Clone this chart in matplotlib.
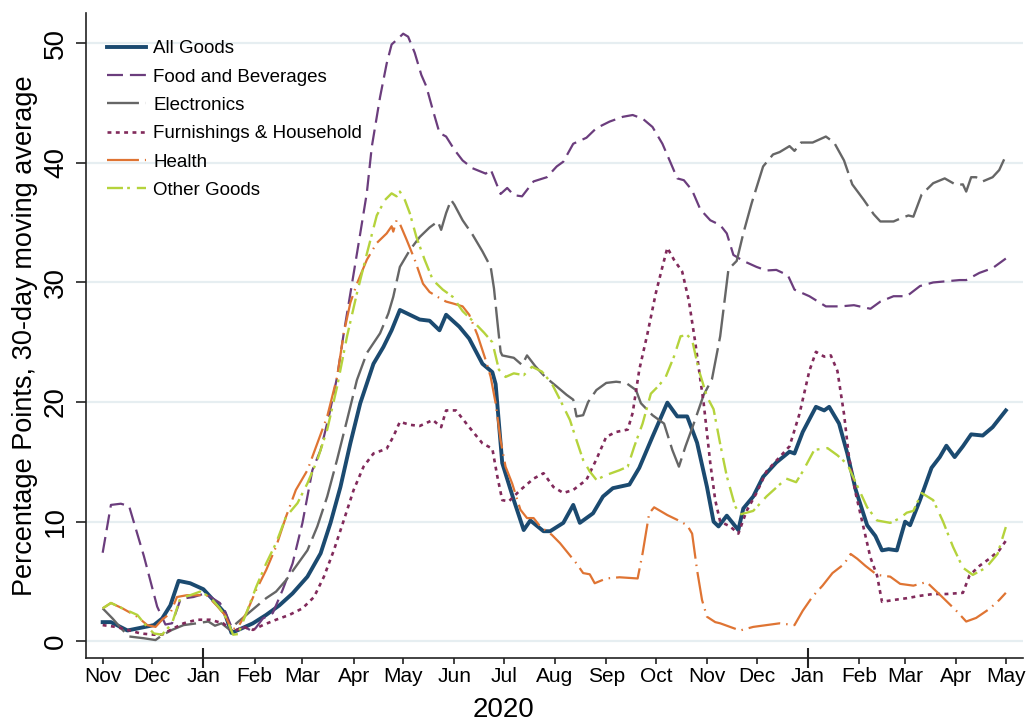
import pandas as pd
import matplotlib
matplotlib.use("Agg")
import matplotlib.pyplot as plt
import matplotlib.dates as mdates

plt.rcParams['font.family'] = ['Liberation Sans', 'DejaVu Sans']
plt.rcParams['lines.scale_dashes'] = False

START = pd.Timestamp("2019-11-01")   # day 0 of the series below

# ---- data: days since 2019-11-01, value in percentage points ----
all_days = [0, 5, 15, 31, 36, 41, 46, 53, 61, 67, 74, 78, 83, 91, 99, 107, 115, 124, 132, 138, 144, 150, 156, 164,
            170, 175, 180, 186, 192, 198, 204, 208, 216, 222, 230, 236, 238, 242, 249, 255, 259, 267, 271, 279, 285,
            289, 297, 303, 309, 319, 325, 333, 342, 348, 354, 360, 366, 370, 373, 378, 385, 388, 394, 400, 408, 416,
            419, 424, 432, 437, 440, 446, 451, 456, 463, 468, 472, 476, 481, 486, 489, 495, 502, 507, 511, 516, 521,
            526, 533, 539, 547]
all_vals = [1.6, 1.6, 0.9, 1.35, 1.9, 3.0, 5.05, 4.85, 4.35, 3.45, 2.35, 0.7, 1.0, 1.5, 2.2, 3.0, 4.0, 5.4, 7.35, 9.9,
            12.9, 16.55, 19.9, 23.2, 24.6, 26.0, 27.7, 27.3, 26.9, 26.8, 26.0, 27.3, 26.3, 25.3, 23.2, 22.5, 21.5,
            14.9, 11.8, 9.3, 10.1, 9.2, 9.2, 9.9, 11.4, 9.9, 10.7, 12.1, 12.8, 13.1, 14.5, 17.1, 19.95, 18.8, 18.8,
            16.6, 12.9, 10.0, 9.6, 10.5, 9.3, 11.1, 12.1, 13.75, 14.95, 15.85, 15.7, 17.5, 19.6, 19.3, 19.6, 18.2,
            15.7, 12.7, 9.7, 8.8, 7.6, 7.7, 7.6, 10.0, 9.7, 11.8, 14.5, 15.4, 16.35, 15.4, 16.3, 17.3, 17.2, 17.9,
            19.3]

food_days = [0, 5, 11, 16, 25, 33, 38, 42, 47, 50, 55, 62, 71, 74, 78, 81, 86, 91, 97, 103, 109, 115, 121, 127, 132,
             137, 142, 146, 151, 156, 160, 163, 168, 172, 175, 179, 182, 185, 189, 193, 196, 200, 204, 208, 213, 218,
             224, 232, 235, 241, 245, 249, 254, 261, 269, 275, 279, 285, 293, 299, 307, 315, 321, 327, 333, 339, 344,
             348, 352, 357, 362, 368, 374, 378, 382, 388, 396, 402, 408, 415, 419, 428, 438, 447, 455, 465, 471, 479,
             487, 495, 503, 511, 519, 523, 531, 539, 547]
food_vals = [7.4, 11.4, 11.5, 11.3, 7.1, 2.9, 1.4, 1.5, 3.45, 3.6, 3.7, 4.0, 3.2, 2.55, 1.2, 0.9, 1.2, 0.8, 1.9, 2.35,
             4.3, 6.5, 9.9, 14.3, 16.0, 18.8, 22.1, 25.75, 29.9, 34.1, 37.5, 41.35, 45.5, 48.3, 49.9, 50.4, 50.8,
             50.55, 49.2, 47.35, 46.4, 44.4, 42.5, 42.2, 41.1, 40.2, 39.55, 39.1, 39.45, 37.4, 37.9, 37.3, 37.2,
             38.45, 38.8, 39.7, 40.1, 41.6, 42.1, 42.9, 43.45, 43.85, 44.0, 43.7, 43.0, 41.6, 40.0, 38.7, 38.55, 37.7,
             36.1, 35.2, 34.8, 34.1, 32.3, 31.8, 31.3, 31.0, 31.05, 30.6, 29.4, 28.85, 28.0, 28.0, 28.1, 27.8, 28.4,
             28.85, 28.85, 29.7, 30.0, 30.1, 30.2, 30.2, 30.8, 31.2, 32.0]

elec_days = [0, 6, 12, 16, 25, 32, 36, 42, 49, 57, 64, 68, 72, 77, 81, 87, 93, 99, 105, 111, 117, 124, 130, 136, 142,
             148, 154, 160, 168, 173, 176, 180, 186, 192, 198, 203, 205, 208, 211, 213, 218, 224, 230, 235, 237, 239,
             241, 242, 249, 254, 257, 262, 268, 275, 281, 285, 287, 291, 294, 299, 305, 311, 317, 323, 326, 333, 340,
             345, 349, 353, 358, 364, 369, 374, 379, 384, 388, 393, 400, 406, 410, 416, 419, 423, 430, 438, 443, 449,
             454, 461, 467, 471, 479, 484, 488, 491, 496, 503, 510, 517, 521, 523, 526, 529, 533, 539, 543, 547]
elec_vals = [2.75, 1.9, 0.95, 0.4, 0.25, 0.1, 0.5, 0.95, 1.35, 1.5, 1.65, 1.3, 1.5, 0.95, 1.5, 2.2, 2.9, 3.6, 4.15,
             5.1, 6.25, 7.6, 9.6, 12.1, 15.2, 18.5, 21.85, 24.1, 25.75, 27.4, 28.8, 31.3, 32.7, 33.8, 34.6, 35.1,
             34.4, 35.8, 36.9, 36.5, 35.2, 34.0, 32.6, 31.3, 29.5, 26.8, 24.2, 23.9, 23.7, 23.1, 23.9, 23.0, 22.1,
             21.3, 20.6, 20.2, 18.8, 18.9, 20.0, 21.0, 21.6, 21.7, 21.6, 21.0, 19.9, 18.9, 18.2, 16.0, 14.6, 16.3,
             18.2, 20.6, 21.9, 25.5, 31.1, 31.8, 34.1, 36.6, 39.7, 40.7, 40.9, 41.4, 41.0, 41.7, 41.7, 42.2, 41.7,
             40.2, 38.2, 36.9, 35.7, 35.1, 35.1, 35.4, 35.6, 35.5, 37.35, 38.3, 38.7, 38.15, 38.2, 37.6, 38.8, 38.8,
             38.45, 38.8, 39.4, 40.6]

furn_days = [0, 8, 15, 23, 31, 36, 41, 49, 57, 65, 73, 79, 85, 91, 97, 105, 113, 121, 128, 134, 140, 146, 152, 158,
             164, 172, 176, 180, 186, 192, 200, 205, 208, 214, 222, 230, 236, 239, 242, 246, 253, 261, 267, 273, 279,
             285, 293, 299, 305, 311, 318, 321, 325, 330, 335, 339, 342, 346, 351, 355, 359, 362, 364, 368, 371, 374,
             380, 385, 390, 396, 402, 410, 416, 422, 428, 432, 437, 441, 445, 449, 452, 456, 461, 465, 469, 472, 479,
             487, 495, 503, 511, 521, 525, 531, 537, 543, 547]
furn_vals = [1.35, 1.2, 0.95, 0.65, 0.55, 0.55, 0.95, 1.5, 1.8, 1.8, 1.5, 0.8, 1.2, 0.95, 1.35, 1.8, 2.2, 2.75, 3.7,
             5.4, 7.6, 10.1, 12.65, 14.6, 15.7, 16.1, 17.1, 18.35, 18.1, 18.0, 18.5, 17.9, 19.3, 19.3, 17.9, 16.55,
             16.1, 13.8, 11.8, 11.7, 12.65, 13.6, 14.05, 12.9, 12.4, 12.65, 13.5, 15.2, 17.1, 17.5, 17.7, 19.1, 22.7,
             25.75, 29.1, 31.3, 32.9, 31.9, 30.9, 28.5, 24.9, 21.85, 19.9, 14.9, 11.8, 10.0, 9.6, 9.0, 10.9, 12.4,
             14.2, 15.4, 16.3, 19.0, 22.6, 24.2, 23.8, 23.9, 22.6, 19.0, 15.4, 12.4, 9.4, 7.0, 5.5, 3.3, 3.45, 3.6,
             3.8, 3.95, 3.95, 4.05, 5.5, 6.3, 6.9, 7.6, 8.4]

health_days = [0, 5, 12, 21, 27, 32, 36, 41, 45, 51, 57, 63, 69, 74, 78, 82, 87, 93, 99, 105, 111, 117, 124, 130,
               136, 142, 146, 150, 154, 160, 166, 172, 175, 176, 178, 180, 184, 189, 194, 198, 204, 208, 212, 218,
               222, 227, 232, 235, 238, 241, 244, 248, 253, 257, 261, 265, 272, 277, 282, 287, 291, 295, 298, 305,
               313, 324, 327, 331, 334, 342, 348, 354, 357, 360, 363, 366, 371, 374, 380, 386, 394, 402, 410, 419,
               424, 430, 436, 442, 449, 453, 457, 462, 469, 477, 483, 491, 499, 507, 517, 523, 529, 537, 543, 547]
health_vals = [2.75, 3.2, 2.75, 2.05, 1.35, 1.2, 1.8, 2.35, 3.7, 3.85, 3.85, 3.85, 3.0, 2.2, 0.95, 1.2, 2.35, 4.3,
               5.95, 7.9, 10.4, 12.65, 14.3, 16.55, 18.8, 22.1, 25.75, 28.3, 29.9, 31.9, 33.3, 34.1, 34.7, 34.25,
               35.2, 34.9, 33.6, 31.9, 29.9, 29.2, 28.7, 28.4, 28.25, 28.0, 27.3, 25.6, 23.5, 22.1, 19.9, 16.8, 14.6,
               13.2, 11.0, 10.3, 10.3, 9.6, 8.9, 8.2, 7.35, 6.5, 5.7, 5.6, 4.85, 5.25, 5.35, 5.25, 7.35, 10.7, 11.2,
               10.55, 10.15, 9.7, 9.0, 5.95, 3.45, 2.05, 1.6, 1.5, 1.2, 0.9, 1.2, 1.35, 1.5, 1.35, 2.55, 3.75, 4.65,
               5.7, 6.45, 7.3, 6.9, 6.3, 5.55, 5.4, 4.8, 4.65, 4.95, 3.9, 2.55, 1.65, 1.95, 2.7, 3.45, 4.05]

other_days = [0, 5, 12, 21, 26, 31, 36, 42, 47, 53, 59, 65, 71, 75, 79, 82, 87, 93, 99, 105, 111, 118, 124, 130, 136,
              142, 148, 154, 160, 166, 171, 175, 178, 180, 183, 186, 190, 195, 200, 206, 210, 212, 218, 224, 231, 236,
              240, 244, 249, 255, 260, 266, 272, 277, 283, 287, 291, 295, 299, 305, 313, 318, 322, 327, 332, 337, 341,
              346, 350, 354, 357, 361, 366, 370, 374, 378, 383, 386, 394, 402, 408, 414, 420, 424, 431, 439, 445, 451,
              457, 463, 469, 477, 483, 487, 491, 496, 503, 509, 515, 521, 527, 535, 542, 547]
other_vals = [2.75, 3.2, 2.75, 2.2, 1.35, 0.65, 0.55, 1.5, 3.6, 3.85, 4.15, 3.7, 2.75, 1.9, 0.55, 0.6, 2.35, 4.55,
              6.5, 8.2, 10.4, 11.55, 13.2, 15.15, 17.7, 21.3, 25.5, 29.1, 32.4, 35.6, 36.9, 37.45, 37.2, 37.6, 36.9,
              35.8, 33.8, 31.9, 30.2, 29.4, 29.0, 28.8, 27.6, 26.8, 25.8, 25.0, 22.7, 22.1, 22.4, 22.25, 22.95, 22.55,
              21.55, 20.2, 18.5, 16.8, 15.15, 14.2, 13.5, 13.9, 14.3, 14.6, 16.3, 18.2, 20.7, 21.4, 22.1, 23.8, 25.5,
              25.6, 25.2, 22.7, 20.45, 19.4, 16.5, 13.8, 11.3, 10.6, 10.9, 12.1, 12.85, 13.6, 13.3, 14.2, 16.0, 16.15,
              15.55, 14.8, 13.0, 11.2, 10.1, 9.9, 10.3, 10.75, 10.9, 12.4, 11.8, 10.0, 7.9, 6.15, 5.55, 6.15, 7.3,
              9.55]

series_names = ["All Goods", "Food and Beverages", "Electronics", "Furnishings & Household", "Health", "Other Goods"]
series_days = [all_days, food_days, elec_days, furn_days, health_days, other_days]
series_vals = [all_vals, food_vals, elec_vals, furn_vals, health_vals, other_vals]

y_ticks = [0, 10, 20, 30, 40, 50]
month_ticks = pd.date_range("2019-11-01", "2021-05-01", freq="MS")
month_labels = [d.strftime("%b") for d in month_ticks]
year_ticks = pd.to_datetime(["2020-01-01", "2021-01-01"])
year_label = "2020"
year_label_pos = pd.Timestamp("2020-07-01")

# ---- styles ----
colors = ["#1b4a70", "#6b3d7d", "#666666", "#812a5b", "#df7433", "#b5d33c"]
widths = [2.8, 1.6, 1.7, 1.9, 1.6, 1.7]
styles = ["-", (0, (11.5, 5)), (0, (23, 5)), (0, (2.8, 3.2)), (0, (23, 4.3, 1.1, 4.3)), (0, (11.5, 3, 2, 5))]

W, H = 1026, 722
fig = plt.figure(figsize=(W / 100, H / 100), dpi=100)
L, R, T, B = 86, 1023, 13, 658
ax = fig.add_axes([L / W, 1 - B / H, (R - L) / W, (B - T) / H])

for name, d, v, c, lw, ls in zip(series_names, series_days, series_vals, colors, widths, styles):
    dates = START + pd.to_timedelta(d, unit="D")
    ax.plot(dates, v, color=c, lw=lw, linestyle=ls, label=name, solid_joinstyle="round")

ax.set_xlim(START - pd.Timedelta(days=10.1), START + pd.Timedelta(days=557.4))
ax.set_ylim(-1.40, 52.53)

ax.set_yticks(y_ticks)
ax.set_yticklabels([str(t) for t in y_ticks])
ax.tick_params(axis="y", length=7.2, width=1.2, pad=5, labelsize=20, labelrotation=90, color="#222222")
for lab in ax.get_yticklabels():
    lab.set_va("center")

ax.set_xticks(month_ticks)
ax.set_xticklabels(month_labels)
ax.xaxis.remove_overlapping_locs = False
ax.set_xticks(year_ticks, minor=True)
ax.tick_params(axis="x", which="major", length=4.3, width=1.2, pad=2, labelsize=15, direction="out", color="#222222")
ax.tick_params(axis="x", which="minor", length=15, width=1.5, direction="inout", color="#222222")

ax.yaxis.grid(True, color="#e6eef1", lw=1.6)
ax.set_axisbelow(True)
for s in ["top", "right"]:
    ax.spines[s].set_visible(False)
for s in ["left", "bottom"]:
    ax.spines[s].set_linewidth(1.2)
    ax.spines[s].set_color("#222222")

ax.set_ylabel("Percentage Points, 30-day moving average", fontsize=19.5)
ax.yaxis.set_label_coords((38 - L) / (R - L), 0.5)
ax.text(year_label_pos, (B - 717) / (B - T), year_label, transform=ax.get_xaxis_transform(),
        ha="center", va="baseline", fontsize=20)

ax.legend(loc="upper left", bbox_to_anchor=(106.7 / W, 1 - 40 / H), bbox_transform=fig.transFigure,
          frameon=False, fontsize=13.5, handlelength=2.08, handletextpad=0.4, labelspacing=0.6,
          borderpad=0, borderaxespad=0)

fig.savefig("out.png", dpi=100)
